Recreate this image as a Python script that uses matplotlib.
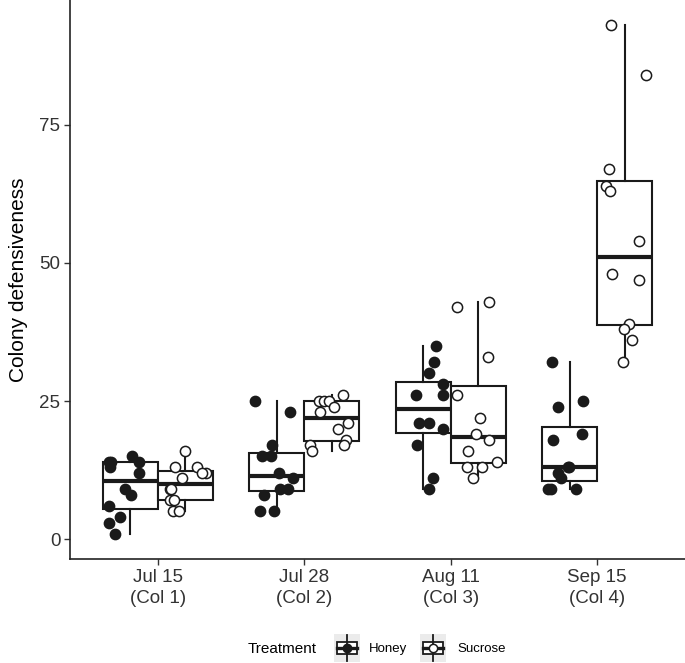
import matplotlib
matplotlib.use("Agg")
import matplotlib.pyplot as plt
from matplotlib.patches import Rectangle
from matplotlib.lines import Line2D

plt.rcParams['font.family'] = ['Liberation Sans', 'DejaVu Sans']

# ---- data ----
date_labels = ["Jul 15\n(Col 1)", "Jul 28\n(Col 2)", "Aug 11\n(Col 3)", "Sep 15\n(Col 4)"]
treatments = ["Honey", "Sucrose"]

honey_jul15 = [15, 14, 14, 14, 13, 12, 9, 8, 6, 4, 3, 1]
honey_jul28 = [25, 23, 17, 15, 15, 12, 11, 9, 9, 8, 5, 5]
honey_aug11 = [35, 32, 30, 28, 26, 26, 21, 21, 20, 17, 11, 9]
honey_sep15 = [32, 25, 24, 19, 18, 13, 13, 12, 11, 9, 9, 9]

sucrose_jul15 = [16, 13, 13, 12, 12, 11, 9, 9, 7, 7, 5, 5]
sucrose_jul28 = [26, 25, 25, 25, 24, 23, 21, 20, 18, 17, 17, 16]
sucrose_aug11 = [43, 42, 33, 26, 22, 19, 18, 16, 14, 13, 13, 11]
sucrose_sep15 = [93, 84, 67, 64, 63, 54, 48, 47, 39, 38, 36, 32]

# horizontal jitter (category units)
honey_jul15_jit = [0.01, -0.148, 0.062, -0.13, -0.136, 0.058, -0.034, 0.005, -0.143, -0.07, -0.148, -0.104]
honey_jul28_jit = [-0.15, 0.092, -0.034, -0.102, -0.04, 0.016, 0.108, 0.023, 0.074, -0.086, -0.114, -0.022]
honey_aug11_jit = [0.087, 0.075, 0.041, 0.133, -0.05, 0.133, -0.027, 0.041, 0.133, -0.045, 0.068, 0.041]
honey_sep15_jit = [-0.122, 0.09, -0.081, 0.087, -0.116, -0.013, -0.005, -0.077, -0.059, -0.146, -0.13, 0.042]

sucrose_jul15_jit = [-0.005, -0.073, 0.079, 0.144, 0.112, -0.02, -0.107, -0.1, -0.107, -0.08, -0.085, -0.044]
sucrose_jul28_jit = [0.075, -0.085, -0.05, -0.02, 0.018, -0.078, 0.109, 0.041, 0.098, 0.086, -0.146, -0.135]
sucrose_aug11_jit = [0.077, -0.146, 0.07, -0.142, 0.013, -0.014, 0.077, -0.067, 0.127, -0.078, 0.025, -0.037]
sucrose_sep15_jit = [-0.094, 0.146, -0.105, -0.128, -0.098, 0.1, -0.087, 0.1, 0.031, -0.003, 0.05, -0.014]

honey = [honey_jul15, honey_jul28, honey_aug11, honey_sep15]
sucrose = [sucrose_jul15, sucrose_jul28, sucrose_aug11, sucrose_sep15]
honey_jit = [honey_jul15_jit, honey_jul28_jit, honey_aug11_jit, honey_sep15_jit]
sucrose_jit = [sucrose_jul15_jit, sucrose_jul28_jit, sucrose_aug11_jit, sucrose_sep15_jit]

yticks = [0, 25, 50, 75]

# ---- figure ----
W, H = 685, 663
fig = plt.figure(figsize=(W / 100, H / 100), dpi=100)
ax = fig.add_axes([70 / W, 1 - 559 / H, (685 - 70) / W, 559 / H])

dodge = 0.1875
bw = 0.375
line_c = "#1a1a1a"
cats = list(range(1, len(date_labels) + 1))

for data, jits, off, face in [(honey, honey_jit, -dodge, "#1a1a1a"), (sucrose, sucrose_jit, dodge, "white")]:
    pos = [c + off for c in cats]
    ax.boxplot(data, positions=pos, widths=bw, showfliers=False, showcaps=False,
               patch_artist=True, whis=1.5, manage_ticks=False,
               boxprops=dict(facecolor="white", edgecolor=line_c, linewidth=1.5),
               medianprops=dict(color=line_c, linewidth=3.0, solid_capstyle="butt"),
               whiskerprops=dict(color=line_c, linewidth=1.5),
               zorder=2)
    for p, vals, jj in zip(pos, data, jits):
        ax.scatter([p + j for j in jj], vals, s=54, facecolor=face, edgecolor="#1a1a1a",
                   linewidth=1.1, zorder=3, clip_on=False)

ax.set_xlim(0.4, 4.6)
ax.set_ylim(-3.6, 97.6)
ax.set_xticks(cats)
ax.set_xticklabels(date_labels, fontsize=13.5, color="#333333", linespacing=1.3)
ax.set_yticks(yticks)
ax.set_yticklabels([str(t) for t in yticks], fontsize=13.5, color="#333333")
ax.tick_params(axis="both", length=4, width=1.0, color="#333333", pad=3)
for s in ["top", "right"]:
    ax.spines[s].set_visible(False)
for s in ["left", "bottom"]:
    ax.spines[s].set_linewidth(1.2)
    ax.spines[s].set_color("#222222")
ax.set_ylabel("Colony defensiveness", fontsize=15, color="black", labelpad=8)

# ---- legend (manual, bottom) ----
def px(x, y):
    return x / W, 1 - y / H

fig.text(*px(248, 649), "Treatment", fontsize=11, va="center", ha="left")
for kx, lab, tx, face in [(334, "Honey", 369, "#1a1a1a"), (420, "Sucrose", 457, "white")]:
    kax = fig.add_axes([kx / W, 1 - 662 / H, 26 / W, 28 / H])
    kax.set_xlim(0, 1)
    kax.set_ylim(0, 1)
    kax.axis("off")
    kax.add_patch(Rectangle((0, 0), 1, 1, facecolor="#EBEBEB", edgecolor="none"))
    kax.add_line(Line2D([0.5, 0.5], [0.05, 0.95], color=line_c, lw=1.3))
    kax.add_patch(Rectangle((0.12, 0.27), 0.76, 0.46, facecolor="white", edgecolor=line_c, lw=1.3))
    kax.add_line(Line2D([0.12, 0.88], [0.5, 0.5], color=line_c, lw=2.4))
    kax.scatter([0.5], [0.5], s=36, facecolor=face, edgecolor="#1a1a1a", linewidth=1.1, zorder=3)
    fig.text(*px(tx, 649), lab, fontsize=9.5, va="center", ha="left")

fig.savefig("out.png", dpi=100)
